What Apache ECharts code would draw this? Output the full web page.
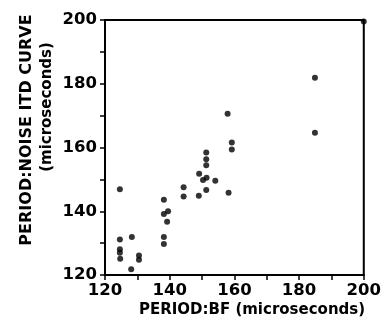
<!DOCTYPE html>
<html><head><meta charset="utf-8">
<script src="https://cdn.jsdelivr.net/npm/echarts@6/dist/echarts.min.js"></script>
<style>html,body{margin:0;padding:0;background:#fff}#c{width:384px;height:325px}</style>
</head><body><div id="c"></div>
<script>
const periodBF = [124.6,124.6,124.6,124.6,124.7,128.3,128.1,130.5,130.5,138.2,138.2,139.5,139.2,138.2,138.2,144.3,144.3,149.1,149.0,150.3,151.4,151.3,151.3,151.3,151.3,154.1,158.2,159.2,159.2,157.9,184.9,184.9,200.0];
const periodNoise = [146.9,131.1,128.1,127.0,125.1,131.9,121.8,126.1,124.8,143.6,139.1,140.0,136.7,131.9,129.7,147.5,144.6,151.8,144.9,149.8,150.5,158.4,156.3,154.4,146.7,149.6,145.8,161.6,159.4,170.6,181.9,164.6,199.5];
const xTitle = 'PERIOD:BF (microseconds)';
const yTitle1 = 'PERIOD:NOISE ITD CURVE';
const yTitle2 = '(microseconds)';

const font = 'DejaVu Sans';
const pts = periodBF.map((x,i)=>[x, periodNoise[i]]);
const chart = echarts.init(document.getElementById('c'), null, {renderer:'canvas'});
const axisCommon = {
  min:120, max:200, interval:20,
  axisLine:{show:true, lineStyle:{color:'#000', width:2}},
  axisTick:{show:true, length:5, lineStyle:{color:'#000', width:1.5}},
  minorTick:{show:true, splitNumber:2, length:5, lineStyle:{color:'#000', width:1.5}},
  splitLine:{show:false},
  axisLabel:{color:'#000', fontFamily:font, fontSize:16.5, fontWeight:'bold'}
};
chart.setOption({
  animation:false,
  grid:{left:105, right:19, top:20, bottom:50, show:true, borderColor:'#000', borderWidth:2},
  xAxis:Object.assign({type:'value'}, axisCommon, {axisLabel:Object.assign({}, axisCommon.axisLabel, {margin:7})}),
  yAxis:Object.assign({type:'value'}, axisCommon, {axisLabel:Object.assign({}, axisCommon.axisLabel, {margin:8})}),
  graphic:[
    {type:'text', x:252, y:310, style:{text:xTitle, fill:'#000', font:'bold 15px "DejaVu Sans"', align:'center', verticalAlign:'middle'}},
    {type:'text', x:27, y:130, rotation:Math.PI/2, style:{text:yTitle1, fill:'#000', font:'bold 16px "DejaVu Sans"', align:'center', verticalAlign:'middle'}},
    {type:'text', x:47, y:107, rotation:Math.PI/2, style:{text:yTitle2, fill:'#000', font:'bold 15px "DejaVu Sans"', align:'center', verticalAlign:'middle'}}
  ],
  series:[{type:'scatter', data:pts, symbol:'circle', symbolSize:6, itemStyle:{color:'#000'}}]
});
</script></body></html>
